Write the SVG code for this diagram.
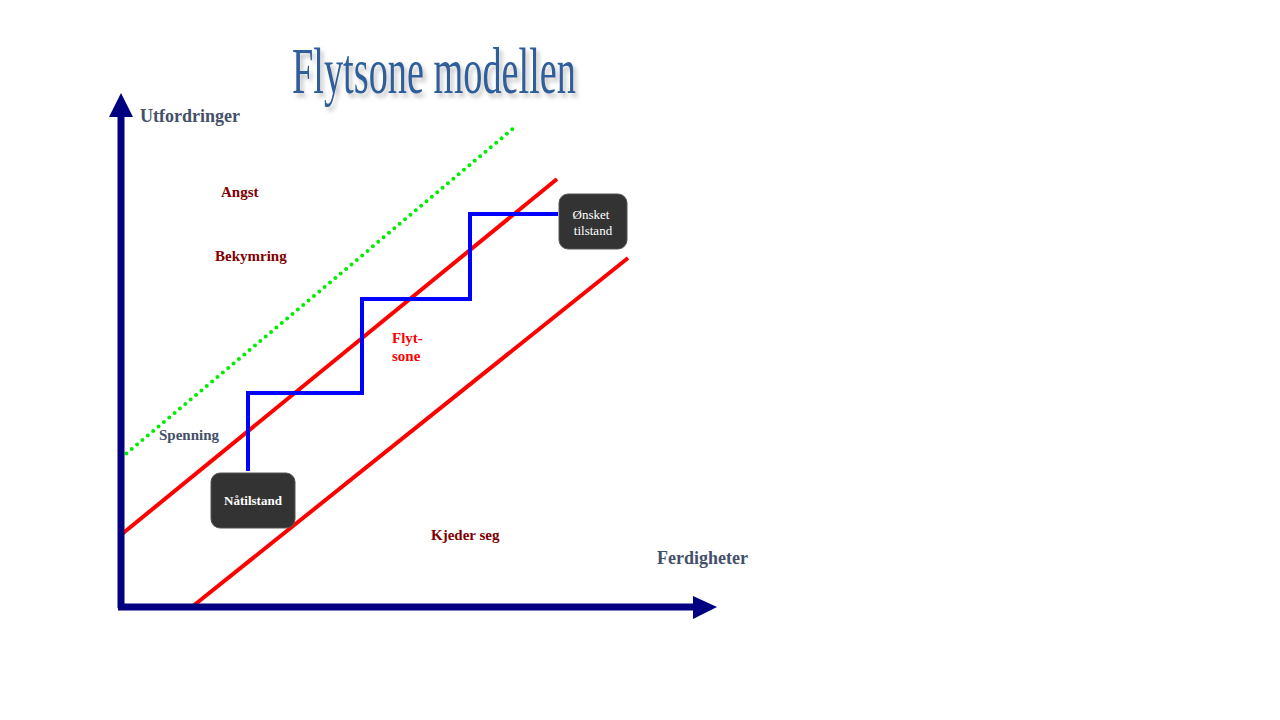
<svg xmlns="http://www.w3.org/2000/svg" width="1280" height="720" viewBox="0 0 1280 720">
<defs>
<style>
.lbl{font-family:"Liberation Serif",serif;font-weight:bold;font-size:15px}
.dark{fill:#800000}
.axis{fill:#44506a;font-size:18px}
.box{fill:#333333;stroke:#555;stroke-width:1}
.bt{fill:#ffffff;font-family:"Liberation Serif",serif;font-size:13px}
</style>
<filter id="sh" x="-10%" y="-10%" width="130%" height="140%"><feDropShadow dx="3" dy="4" stdDeviation="2" flood-color="#999" flood-opacity="0.6"/></filter>
</defs>
<rect width="1280" height="720" fill="#fff"/>
<text x="292" y="93" font-family="Liberation Serif,serif" font-size="66" fill="#2f5f9b" textLength="284" lengthAdjust="spacingAndGlyphs" filter="url(#sh)">Flytsone  modellen</text>
<g id="connectors">
<line x1="121" y1="458" x2="515" y2="127" stroke="#00ee00" stroke-width="4" stroke-dasharray="0 7" stroke-linecap="round"/>
<line x1="122" y1="534" x2="557" y2="179" stroke="#ff0000" stroke-width="4"/>
<line x1="193" y1="606" x2="628" y2="258" stroke="#ff0000" stroke-width="4"/>
<polyline points="248,471 248,393 362,393 362,299 470,299 470,214 558,214" fill="none" stroke="#0000ff" stroke-width="4"/>
<line x1="121" y1="608" x2="121" y2="115" stroke="#000080" stroke-width="7"/>
<polygon points="109,117 133,117 121,93" fill="#000080"/>
<line x1="118" y1="607" x2="695" y2="607" stroke="#000080" stroke-width="7"/>
<polygon points="693,596 693,619 717,607" fill="#000080"/>
</g>
<g id="natilstand"><rect class="box" x="211" y="473" width="84" height="55" rx="9"/><text class="bt" x="253" y="505" text-anchor="middle" font-weight="bold" font-size="12">Nåtilstand</text></g>
<g id="onsket"><rect class="box" x="559" y="194" width="68" height="55" rx="9"/><text class="bt" x="591" y="219" text-anchor="middle">Ønsket</text><text class="bt" x="593" y="235" text-anchor="middle">tilstand</text></g>
<text class="lbl axis" x="140" y="122">Utfordringer</text>
<text class="lbl axis" x="657" y="564">Ferdigheter</text>
<text class="lbl dark" x="221" y="197">Angst</text>
<text class="lbl dark" x="215" y="261">Bekymring</text>
<text class="lbl" x="159" y="440" fill="#44506a">Spenning</text>
<text class="lbl" x="392" y="343" fill="#ff0000" font-size="14">Flyt-</text>
<text class="lbl" x="392" y="361" fill="#ff0000" font-size="14">sone</text>
<text class="lbl dark" x="431" y="540">Kjeder seg</text>
</svg>
